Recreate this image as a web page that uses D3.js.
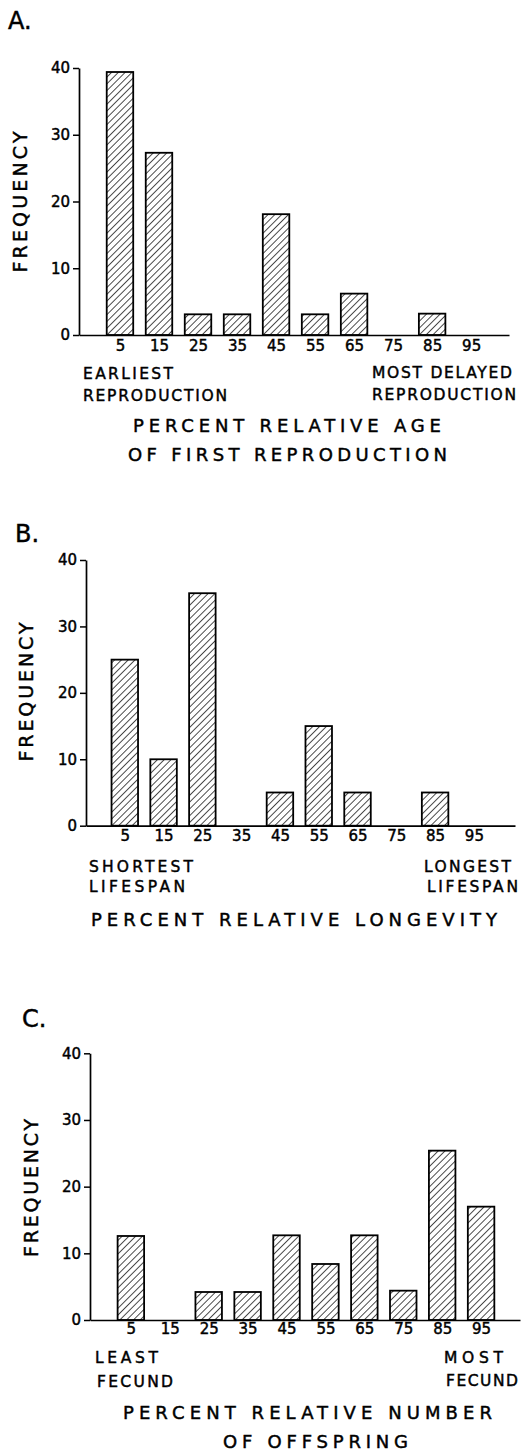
<!DOCTYPE html>
<html>
<head>
<meta charset="utf-8">
<script src="https://cdn.jsdelivr.net/npm/d3@7"></script>
<style>
  body { margin: 0; background: #fff; }
  svg { display: block; }
  text { font-family: "DejaVu Sans", "Liberation Sans", sans-serif; fill: #000; stroke: #000; stroke-width: 0.45px; }
</style>
</head>
<body>
<svg id="chart" width="528" height="1452"></svg>
<script>
// bin centres (percent) and frequencies
var bins = [5, 15, 25, 35, 45, 55, 65, 75, 85, 95];
var freqA = [39.4, 27.3, 3.1, 3.1, 18.1, 3.1, 6.2, 0, 3.2, 0];
var freqB = [25, 10, 35, 0, 5, 15, 5, 0, 5, 0];
var freqC = [12.6, 0, 4.2, 4.2, 12.7, 8.4, 12.7, 4.4, 25.4, 17.0];
var yTicks = [0, 10, 20, 30, 40];

var svg = d3.select("#chart");

// diagonal hatching used for every bar
svg.append("defs").append("pattern")
  .attr("id", "hatch")
  .attr("patternUnits", "userSpaceOnUse")
  .attr("width", 4.8).attr("height", 4.8)
  .attr("patternTransform", "rotate(45)")
  .append("line")
    .attr("x1", 0).attr("y1", 0).attr("x2", 0).attr("y2", 4.8)
    .attr("stroke", "#000").attr("stroke-width", 1.4);

function label(g, txt, x, y, size, len, anchor) {
  var t = g.append("text")
    .attr("x", x).attr("y", y)
    .attr("font-size", size)
    .attr("text-anchor", anchor || "start")
    .text(txt);
  if (len) t.attr("textLength", len).attr("lengthAdjust", "spacing");
  return t;
}

function drawPanel(p) {
  var g = svg.append("g");

  var x = d3.scaleLinear().domain([p.lo, p.hi]).range([p.left, p.right]);
  var y = d3.scaleLinear().domain([0, 40]).range([p.y0, p.y40]);
  var bw = 26.5;

  // y axis
  var ya = g.append("g")
    .attr("transform", "translate(" + p.left + ",0)")
    .call(d3.axisLeft(y).tickValues(yTicks).tickSize(6).tickSizeOuter(0).tickPadding(3));
  ya.select(".domain").attr("stroke-width", 1.7);
  ya.selectAll(".tick line").attr("stroke-width", 1.5);
  ya.selectAll(".tick text").attr("font-size", 15).attr("font-family", "DejaVu Sans");

  // bars
  g.selectAll("rect.bar")
    .data(p.values.map(function (v, i) { return { bin: bins[i], v: v }; }).filter(function (d) { return d.v > 0; }))
    .join("rect")
      .attr("class", "bar")
      .attr("x", function (d) { return x(d.bin) - bw / 2; })
      .attr("width", bw)
      .attr("y", function (d) { return y(d.v); })
      .attr("height", function (d) { return p.y0 - y(d.v); })
      .attr("fill", "url(#hatch)")
      .attr("stroke", "#000")
      .attr("stroke-width", 1.8);

  // x axis
  var xa = g.append("g")
    .attr("transform", "translate(0," + p.y0 + ")")
    .call(d3.axisBottom(x).tickValues(bins).tickSize(0).tickSizeOuter(0).tickPadding(p.pad));
  xa.select(".domain").attr("stroke-width", 1.7);
  xa.selectAll(".tick text").attr("font-size", 15).attr("font-family", "DejaVu Sans");

  // panel letter
  label(g, p.letter, p.letterX, p.letterY, 24);

  // y title
  g.append("text")
    .attr("transform", "translate(" + p.fqX + "," + p.fqY + ") rotate(-90)")
    .attr("text-anchor", "middle")
    .attr("font-size", 19)
    .attr("textLength", p.fqLen).attr("lengthAdjust", "spacing")
    .text("FREQUENCY");

  p.notes.forEach(function (n) { label(g, n[0], n[1], n[2], 15.5, n[3]); });
  p.titles.forEach(function (n) { label(g, n[0], n[1], n[2], 18, n[3]); });
}

drawPanel({
  values: freqA, letter: "A.", letterX: 8, letterY: 29,
  left: 79, right: 509, lo: -5.5, hi: 104.7, y0: 335, y40: 68, pad: 5,
  fqX: 27, fqY: 202, fqLen: 141,
  notes: [["EARLIEST", 83, 379, 90], ["REPRODUCTION", 83, 401, 144],
          ["MOST DELAYED", 372, 378, 140], ["REPRODUCTION", 372, 400, 144]],
  titles: [["PERCENT RELATIVE AGE", 133, 432, 308], ["OF FIRST REPRODUCTION", 128, 461, 319]]
});

drawPanel({
  values: freqB, letter: "B.", letterX: 15, letterY: 542,
  left: 86, right: 515, lo: -5, hi: 105.6, y0: 825.7, y40: 560, pad: 5,
  fqX: 33, fqY: 692, fqLen: 139,
  notes: [["SHORTEST", 89, 872, 104], ["LIFESPAN", 89, 892, 96],
          ["LONGEST", 424, 872, 87], ["LIFESPAN", 427, 892, 91]],
  titles: [["PERCENT RELATIVE LONGEVITY", 91, 926, 406]]
});

drawPanel({
  values: freqC, letter: "C.", letterX: 22, letterY: 1027,
  left: 90, right: 520, lo: -5.5, hi: 105, y0: 1320, y40: 1053.3, pad: 3,
  fqX: 38, fqY: 1188, fqLen: 138,
  notes: [["LEAST", 95, 1363, 63], ["FECUND", 97, 1387, 76],
          ["MOST", 444, 1363, 59], ["FECUND", 446, 1386, 72]],
  titles: [["PERCENT RELATIVE NUMBER", 123, 1419, 369], ["OF OFFSPRING", 223, 1448, 185]]
});
</script>
</body>
</html>
